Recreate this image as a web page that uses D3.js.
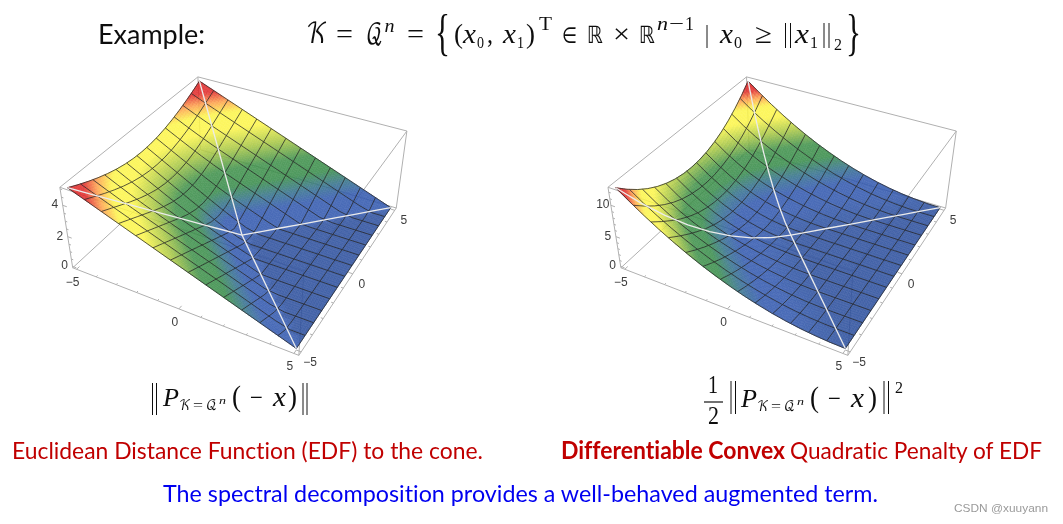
<!DOCTYPE html>
<html><head><meta charset="utf-8">
<script src="https://cdnjs.cloudflare.com/ajax/libs/d3/7.8.5/d3.min.js"></script>
<style>html,body{margin:0;padding:0;background:#fff;overflow:hidden}svg{display:block}text{font-variant-ligatures:none}</style>
</head><body>
<script>
const gridX=[-5,-4.375,-3.75,-3.125,-2.5,-1.875,-1.25,-0.625,0,0.625,1.25,1.875,2.5,3.125,3.75,4.375,5];
const gridY=[-5,-4.375,-3.75,-3.125,-2.5,-1.875,-1.25,-0.625,0,0.625,1.25,1.875,2.5,3.125,3.75,4.375,5];
const meshLines=[-5,-4.231,-3.462,-2.692,-1.923,-1.154,-0.385,0.385,1.154,1.923,2.692,3.462,4.231,5];
const xTickMinor=[-5,-4,-3,-2,-1,0,1,2,3,4,5];
const xTickLabels=[-5,0,5];
const zEDF=[
[5,4.698,4.419,4.169,3.953,3.776,3.644,3.563,3.536,3.563,3.644,3.776,3.953,4.169,4.419,4.698,5],
[4.688,4.375,4.074,3.802,3.563,3.366,3.218,3.125,3.094,3.125,3.218,3.366,3.563,3.802,4.074,4.375,4.688],
[4.375,4.063,3.75,3.452,3.187,2.964,2.795,2.688,2.652,2.688,2.795,2.964,3.187,3.452,3.75,4.063,4.375],
[4.063,3.75,3.438,3.125,2.83,2.577,2.38,2.254,2.21,2.254,2.38,2.577,2.83,3.125,3.438,3.75,4.063],
[3.75,3.438,3.125,2.813,2.5,2.21,1.976,1.822,1.768,1.822,1.976,2.21,2.5,2.813,3.125,3.438,3.75],
[3.438,3.125,2.813,2.5,2.188,1.875,1.594,1.398,1.326,1.398,1.594,1.875,2.188,2.5,2.813,3.125,3.438],
[3.125,2.813,2.5,2.188,1.875,1.563,1.25,.988,.884,.988,1.25,1.563,1.875,2.188,2.5,2.813,3.125],
[2.813,2.5,2.188,1.875,1.563,1.25,.938,.625,.442,.625,.938,1.25,1.563,1.875,2.188,2.5,2.813],
[2.5,2.188,1.875,1.563,1.25,.938,.625,.313,0,.313,.625,.938,1.25,1.563,1.875,2.188,2.5],
[2.188,1.875,1.563,1.25,.938,.625,.313,0,0,0,.313,.625,.938,1.25,1.563,1.875,2.188],
[1.875,1.563,1.25,.938,.625,.313,0,0,0,0,0,.313,.625,.938,1.25,1.563,1.875],
[1.563,1.25,.938,.625,.313,0,0,0,0,0,0,0,.313,.625,.938,1.25,1.563],
[1.25,.938,.625,.313,0,0,0,0,0,0,0,0,0,.313,.625,.938,1.25],
[.938,.625,.313,0,0,0,0,0,0,0,0,0,0,0,.313,.625,.938],
[.625,.313,0,0,0,0,0,0,0,0,0,0,0,0,0,.313,.625],
[.313,0,0,0,0,0,0,0,0,0,0,0,0,0,0,0,.313],
[0,0,0,0,0,0,0,0,0,0,0,0,0,0,0,0,0]];
const zQuad=[
[12.5,11.04,9.77,8.69,7.81,7.13,6.64,6.35,6.25,6.35,6.64,7.13,7.81,8.69,9.77,11.04,12.5],
[10.99,9.57,8.3,7.23,6.35,5.66,5.18,4.88,4.79,4.88,5.18,5.66,6.35,7.23,8.3,9.57,10.99],
[9.57,8.25,7.03,5.96,5.08,4.39,3.91,3.61,3.52,3.61,3.91,4.39,5.08,5.96,7.03,8.25,9.57],
[8.25,7.03,5.91,4.88,4,3.32,2.83,2.54,2.44,2.54,2.83,3.32,4,4.88,5.91,7.03,8.25],
[7.03,5.91,4.88,3.96,3.13,2.44,1.95,1.66,1.56,1.66,1.95,2.44,3.13,3.96,4.88,5.91,7.03],
[5.91,4.88,3.96,3.13,2.39,1.76,1.27,.98,.88,.98,1.27,1.76,2.39,3.13,3.96,4.88,5.91],
[4.88,3.96,3.13,2.39,1.76,1.22,.78,.49,.39,.49,.78,1.22,1.76,2.39,3.13,3.96,4.88],
[3.96,3.13,2.39,1.76,1.22,.78,.44,.2,.1,.2,.44,.78,1.22,1.76,2.39,3.13,3.96],
[3.13,2.39,1.76,1.22,.78,.44,.2,.05,0,.05,.2,.44,.78,1.22,1.76,2.39,3.13],
[2.39,1.76,1.22,.78,.44,.2,.05,0,0,0,.05,.2,.44,.78,1.22,1.76,2.39],
[1.76,1.22,.78,.44,.2,.05,0,0,0,0,0,.05,.2,.44,.78,1.22,1.76],
[1.22,.78,.44,.2,.05,0,0,0,0,0,0,0,.05,.2,.44,.78,1.22],
[.78,.44,.2,.05,0,0,0,0,0,0,0,0,0,.05,.2,.44,.78],
[.44,.2,.05,0,0,0,0,0,0,0,0,0,0,0,.05,.2,.44],
[.2,.05,0,0,0,0,0,0,0,0,0,0,0,0,0,.05,.2],
[.05,0,0,0,0,0,0,0,0,0,0,0,0,0,0,0,.05],
[0,0,0,0,0,0,0,0,0,0,0,0,0,0,0,0,0]];
const colorStops=[0,0.12,0.2,0.29,0.4,0.52,0.65,0.76,0.84,0.91,1];
const colorRange=["#3158ae","#3158ae","#33708c","#378c49","#3f9049","#a5c543","#fcf549","#fcf549","#fd9e4a","#e02a2a","#df2626"];

const W=1063,H=524;
const svg=d3.select("body").append("svg").attr("width",W).attr("height",H).attr("viewBox",[0,0,W,H]);
const defs=svg.append("defs");
const addBlur=(id,s)=>defs.append("filter").attr("id",id).attr("x","-5%").attr("y","-5%").attr("width","110%").attr("height","110%")
  .append("feGaussianBlur").attr("stdDeviation",s);
addBlur("soft",0.35);addBlur("txt",0.28);

const colorOf=d3.scaleLinear().domain(colorStops).range(colorRange).interpolate(d3.interpolateRgb).clamp(true);

const V=[1.3,-2.4,2];
const norm=a=>Math.hypot(...a), dot=(a,b)=>a[0]*b[0]+a[1]*b[1]+a[2]*b[2];
const cross=(a,b)=>[a[1]*b[2]-a[2]*b[1],a[2]*b[0]-a[0]*b[2],a[0]*b[1]-a[1]*b[0]];
const unit=a=>{const n=norm(a);return a.map(v=>v/n)};
const F=unit(V.map(v=>-v)),R=unit(cross(F,[0,0,1])),U=cross(R,F);
const sampleAt=[...new Set([...gridX,...meshLines])].sort((a,b)=>a-b);

function makePlot(cfg){
  const sx=d3.scaleLinear().domain([-5.2,5.2]).range([-.5,.5]);
  const sy=d3.scaleLinear().domain([-5.2,5.2]).range([-.5,.5]);
  const pad=cfg.zMax*0.02;
  const sz=d3.scaleLinear().domain([-pad,cfg.zMax+pad]).range([-.2,.2]);
  const toScreen=p=>{
    const q=[p[0]-V[0],p[1]-V[1],p[2]-V[2]];
    const d=dot(q,F);
    return [cfg.cx+cfg.kx*dot(q,R)/d, cfg.cy-cfg.ky*dot(q,U)/d, d];
  };
  const proj=(x,y,z)=>toScreen([sx(x),sy(y),sz(z)]);
  const g=svg.append("g").attr("class","plot");
  const boxLayer=g.append("g").attr("fill","none").attr("stroke","#b0b0b0").attr("stroke-width",1).attr("filter","url(#txt)");
  const [x0,x1]=sx.domain(),[y0,y1]=sy.domain(),[z0,z1]=sz.domain();
  const seg=(a,b)=>{const A=proj(...a),B=proj(...b);boxLayer.append("line").attr("x1",A[0]).attr("y1",A[1]).attr("x2",B[0]).attr("y2",B[1]);};
  [[x0,y0],[x1,y0],[x1,y1],[x0,y1]].forEach((c,i,arr)=>{
    const n=arr[(i+1)%4];
    seg([c[0],c[1],z0],[n[0],n[1],z0]);
    seg([c[0],c[1],z1],[n[0],n[1],z1]);
    seg([c[0],c[1],z0],[c[0],c[1],z1]);
  });
  xTickMinor.forEach(t=>{
    const len=(t%5===0)?0.2:0.1;
    seg([t,y0,z0],[t,y0+len,z0]);
    seg([x1,t,z0],[x1-len,t,z0]);
  });
  cfg.zMinor.forEach(t=>{
    const len=(cfg.zLabels.includes(t))?0.2:0.1;
    seg([x0,y0,t],[x0+len,y0,t]);
  });
  const N=5;
  const cells=[];
  const Z=cfg.values;
  const zAt=(x,y)=>{
    const i=Math.min(gridX.length-2,Math.max(0,d3.bisectRight(gridX,x)-1));
    const j=Math.min(gridY.length-2,Math.max(0,d3.bisectRight(gridY,y)-1));
    const u=(x-gridX[i])/(gridX[i+1]-gridX[i]),v=(y-gridY[j])/(gridY[j+1]-gridY[j]);
    return Z[i][j]*(1-u)*(1-v)+Z[i+1][j]*u*(1-v)+Z[i][j+1]*(1-u)*v+Z[i+1][j+1]*u*v;
  };
  for(let i=0;i<gridX.length-1;i++)for(let j=0;j<gridY.length-1;j++){
    const z00=Z[i][j],z10=Z[i+1][j],z01=Z[i][j+1],z11=Z[i+1][j+1];
    const bil=(u,v)=>z00*(1-u)*(1-v)+z10*u*(1-v)+z01*(1-u)*v+z11*u*v;
    const dx=gridX[i+1]-gridX[i],dy=gridY[j+1]-gridY[j];
    for(let a=0;a<N;a++)for(let b=0;b<N;b++){
      const us=[a/N,(a+1)/N],vs=[b/N,(b+1)/N];
      const pts=[[0,0],[1,0],[1,1],[0,1]].map(k=>{
        const u=us[k[0]],v=vs[k[1]];
        return proj(gridX[i]+u*dx,gridY[j]+v*dy,bil(u,v));
      });
      const zc=bil((us[0]+us[1])/2,(vs[0]+vs[1])/2);
      const gx=(bil(us[1],(vs[0]+vs[1])/2)-bil(us[0],(vs[0]+vs[1])/2))/(dx/N);
      const gy=(bil((us[0]+us[1])/2,vs[1])-bil((us[0]+us[1])/2,vs[0]))/(dy/N);
      const slope=Math.hypot(gx,gy)*(0.4/(z1-z0))*10.4;
      const shade=0.9+0.1*Math.min(1,slope/0.25);
      const col=d3.rgb(colorOf(zc/cfg.zMax));
      cells.push({pts,depth:d3.mean(pts,p=>p[2]),fill:d3.rgb(col.r*shade,col.g*shade,col.b*shade).formatHex()});
    }
  }
  cells.sort((a,b)=>b.depth-a.depth);
  const surf=g.append("g").attr("opacity",0.88).attr("filter","url(#soft)");
  const poly=d3.line();
  surf.selectAll("path.c").data(cells).join("path").attr("class","c")
    .attr("d",d=>poly(d.pts.map(p=>[p[0],p[1]]))+"Z")
    .attr("fill",d=>d.fill).attr("stroke",d=>d.fill).attr("stroke-width",0.6);
  const mesh=g.append("g").attr("fill","none").attr("stroke","#262626").attr("stroke-width",0.85).attr("stroke-opacity",.9).attr("filter","url(#soft)");
  const lineP=d3.line().x(d=>d[0]).y(d=>d[1]);
  meshLines.forEach(m=>{
    mesh.append("path").attr("d",lineP(sampleAt.map(y=>proj(m,y,zAt(m,y)))));
    mesh.append("path").attr("d",lineP(sampleAt.map(x=>proj(x,m,zAt(x,m)))));
  });
  const white=g.append("g").attr("fill","none").attr("stroke","#ebebeb").attr("stroke-width",1.3).attr("filter","url(#soft)");
  white.append("path").attr("d",lineP(gridX.map((x,i)=>proj(x,gridY[i],Z[i][i]))));
  white.append("path").attr("d",lineP(gridX.map((x,i)=>proj(x,gridY[16-i],Z[i][16-i]))));
  const lab=g.append("g").attr("font-family","'Liberation Sans',sans-serif").attr("font-size",12).attr("fill","#3c3c3c").attr("text-anchor","middle").attr("filter","url(#txt)");
  const fmt=t=>t<0?"\u2212"+(-t):""+t;
  xTickLabels.forEach(t=>{
    const p=proj(t,y0,z0);
    lab.append("text").attr("x",p[0]-4).attr("y",p[1]+17).text(fmt(t));
  });
  xTickLabels.forEach(t=>{
    const p=proj(x1,t,z0);
    lab.append("text").attr("x",p[0]+9).attr("y",p[1]+14).text(fmt(t));
  });
  cfg.zLabels.forEach(t=>{
    const p=proj(x0,y0,t);
    lab.append("text").attr("x",p[0]-8).attr("y",p[1]+3).text(fmt(t));
  });
}
makePlot({values:zEDF,zMax:5,zLabels:[0,2,4],zMinor:[0,.5,1,1.5,2,2.5,3,3.5,4,4.5,5],cx:242,cy:198.5,kx:834,ky:825});
makePlot({values:zQuad,zMax:12.5,zLabels:[0,5,10],zMinor:[0,1,2,3,4,5,6,7,8,9,10,11,12],cx:790.8,cy:198.5,kx:837,ky:825});

const tg=svg.append("g").attr("filter","url(#txt)");
const serif="'Liberation Serif','DejaVu Serif',serif", mathF="'DejaVu Math TeX Gyre','DejaVu Serif','Liberation Serif',serif", ds="'DejaVu Sans'";
const T=(s,x,y,o={})=>{
  const t=tg.append("text").attr("x",x).attr("y",y).text(s)
    .attr("font-family",o.f||serif).attr("font-size",o.s||24).attr("fill",o.c||"#111")
    .attr("font-style",o.i?"italic":"normal").attr("font-weight",o.b?"bold":"normal");
  if(o.w){t.attr("textLength",o.w).attr("lengthAdjust","spacingAndGlyphs");}
  return t;
};
const bar=(x,y1,y2)=>tg.append("line").attr("x1",x).attr("x2",x).attr("y1",y1).attr("y2",y2).attr("stroke","#111").attr("stroke-width",1);
const cal="Lato,'Open Sans',sans-serif";
T("Example:",98,44,{f:cal,s:27,w:107,c:"#111"});
const KQ=[
["\uD835\uDCA6",306,43,{f:mathF,s:27,w:22}],["=",336,43,{s:28,w:17}],["\uD835\uDCAC",366,43,{f:mathF,s:27,w:17}],["n",384.5,32,{s:18,i:1,w:10}],["=",407,43,{s:28,w:17}],
["{",435,49,{s:50,w:15}],["(",454,43,{s:28,w:9}],["x",463,43,{s:28,i:1,w:13}],["0",477,48,{s:16,w:7}],[",",487,43,{s:28,w:6}],["x",503,43,{s:28,i:1,w:13}],["1",517,48,{s:16,w:7}],[")",526,43,{s:28,w:9}],["T",539,30,{s:19,w:13}],
["\u2208",562,43,{s:22,f:ds,w:15}],["\u211D",587,43,{s:24,f:ds,w:16}],["\u00D7",613,43,{s:28,w:17}],["\u211D",639,43,{s:24,f:ds,w:16}],
["n",657,30,{s:19,i:1,w:11}],["\u2212",669,30,{s:19,w:15}],["1",685,30,{s:19,w:9}],["x",720,43,{s:28,i:1,w:13}],["0",734,48,{s:16,w:8}],["\u2265",755,43,{s:28,w:17}],
["x",795,43,{s:28,i:1,w:14}],["1",810,48,{s:16,w:8}],["2",834,50,{s:16,w:8}],["}",846,49,{s:50,w:15}]
];
KQ.forEach(d=>T(d[0],d[1],d[2],d[3]));
[[707,25,48],[785.5,23,48],[790.5,23,48],[824,23,48],[829,23,48]].forEach(b=>bar(...b));

const sub=(ox,oy)=>[
["P",163+ox,406+oy,{s:26,i:1,w:16}],["\uD835\uDCA6",179+ox,410+oy,{f:mathF,s:14,w:12}],["=",193+ox,410+oy,{s:15,w:10}],["\uD835\uDCAC",206+ox,410+oy,{f:mathF,s:14,w:11}],["n",219+ox,404+oy,{s:11,i:1,w:7}],
["(",232+ox,406+oy,{s:30,w:9}],["\u2212",250+ox,406+oy,{s:26,w:13}],["x",273+ox,406+oy,{s:28,i:1,w:13}]
];
sub(0,0).forEach(d=>T(d[0],d[1],d[2],d[3]));
T(")",288,406,{s:30,w:9});
[[152.5,383,415],[156.5,383,415],[303,383,415],[307,383,415]].forEach(b=>bar(...b));
sub(578,1).forEach(d=>T(d[0],d[1],d[2],d[3]));
T(")",868,407,{s:30,w:9});
[[731,381,414],[735.5,381,414],[884,381,414],[888.5,381,414]].forEach(b=>bar(...b));
T("2",895,393,{s:17,w:8});
T("1",708,393,{s:26,w:10});T("2",708,424,{s:26,w:11});
tg.append("line").attr("x1",704).attr("x2",723).attr("y1",402).attr("y2",402).attr("stroke","#111").attr("stroke-width",1.2);

T("Euclidean Distance Function (EDF) to the cone.",12,459,{f:cal,s:24,w:471,c:"#c00000"});
T("Differentiable Convex",561,459,{f:cal,s:24,b:1,w:224,c:"#c00000"});
T("Quadratic Penalty of EDF",790,459,{f:cal,s:24,w:252,c:"#c00000"});
T("The spectral decomposition provides a well-behaved augmented term.",163,502,{f:cal,s:24,w:715,c:"#0000f0"});
T("CSDN @xuuyann",954,512,{f:"'Liberation Sans',sans-serif",s:11.5,w:94,c:"#9a9a9a"});
</script>
</body></html>
